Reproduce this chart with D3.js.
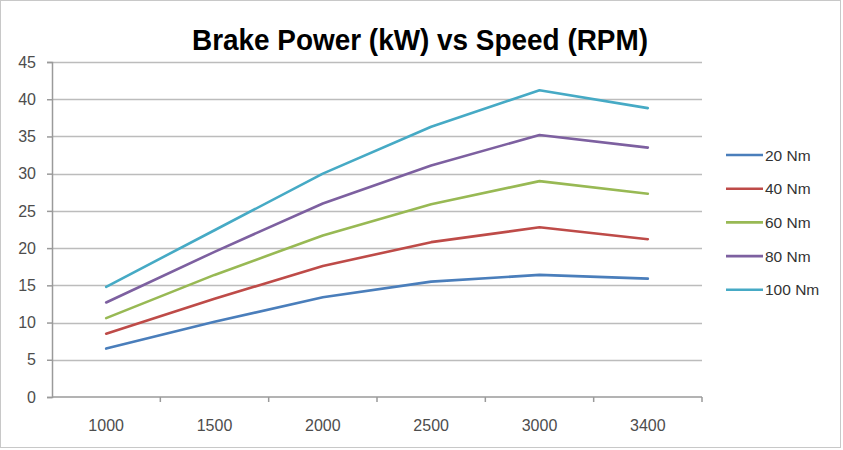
<!DOCTYPE html>
<html>
<head>
<meta charset="utf-8">
<script src="https://cdn.jsdelivr.net/npm/d3@7"></script>
<style>
  html, body { margin: 0; padding: 0; background: #fff; }
  svg { display: block; font-family: "Liberation Sans", Arial, sans-serif; }
</style>
</head>
<body>
<div id="chart"></div>
<script>
// Brake power vs speed — Excel-style line chart
const speeds = ['1000', '1500', '2000', '2500', '3000', '3400'];
const seriesNames = ['20 Nm', '40 Nm', '60 Nm', '80 Nm', '100 Nm'];
const power20 = [6.5, 10.1, 13.4, 15.5, 16.4, 15.9];
const power40 = [8.5, 13.2, 17.6, 20.8, 22.8, 21.2];
const power60 = [10.6, 16.4, 21.7, 25.9, 29.0, 27.3];
const power80 = [12.7, 19.5, 26.0, 31.1, 35.2, 33.5];
const power100 = [14.8, 22.4, 30.0, 36.3, 41.2, 38.8];
const yTicks = [0, 5, 10, 15, 20, 25, 30, 35, 40, 45];
const colors = ['#4a7ebb', '#be4b48', '#98b954', '#7d60a0', '#46aac5'];

const W = 843, H = 450;
const M = { top: 62, right: 141, bottom: 53, left: 52 };
const innerW = W - M.left - M.right, innerH = H - M.top - M.bottom;

const svg = d3.select('#chart').append('svg').attr('width', W).attr('height', H);

// outer chart border
svg.append('rect').attr('x', 0.5).attr('y', 0.5).attr('width', 840).attr('height', 447)
  .attr('fill', '#fff').attr('stroke', '#c8c8c8');

svg.append('text').attr('x', 420).attr('y', 50).attr('text-anchor', 'middle')
  .attr('font-size', 30).attr('font-weight', 'bold').attr('fill', '#000')
  .attr('textLength', 456).attr('lengthAdjust', 'spacingAndGlyphs')
  .text('Brake Power (kW) vs Speed (RPM)');

const g = svg.append('g').attr('transform', `translate(${M.left},${M.top})`);

const x = d3.scaleBand().domain(speeds).range([0, innerW]);
const y = d3.scaleLinear().domain([0, 45]).range([innerH, 0]);

// gridlines
g.append('g').selectAll('line').data(yTicks.filter(d => d > 0)).join('line')
  .attr('x1', 0).attr('x2', innerW)
  .attr('y1', d => Math.round(y(d)) + 0.5).attr('y2', d => Math.round(y(d)) + 0.5)
  .attr('stroke', '#bcbcbc').attr('stroke-width', 1.5);

// y axis
const yAx = g.append('g')
  .call(d3.axisLeft(y).tickValues(yTicks).tickSize(5).tickPadding(11));
yAx.select('.domain').attr('stroke', '#9a9a9a').attr('stroke-width', 1.5);
yAx.selectAll('.tick line').attr('stroke', '#9a9a9a').attr('stroke-width', 1.5);
yAx.selectAll('text').attr('font-size', 16).attr('fill', '#4d4d4d')
  .attr('font-family', '"Liberation Sans", Arial, sans-serif');

// x axis: ticks between categories
const xAx = g.append('g').attr('transform', `translate(0,${innerH})`);
xAx.append('line').attr('x1', 0).attr('x2', innerW).attr('y1', 0).attr('y2', 0)
  .attr('stroke', '#9a9a9a').attr('stroke-width', 1.5);
xAx.selectAll('line.tk').data(speeds).join('line').attr('class', 'tk')
  .attr('x1', d => x(d) + x.bandwidth()).attr('x2', d => x(d) + x.bandwidth())
  .attr('y1', 0).attr('y2', 5).attr('stroke', '#9a9a9a').attr('stroke-width', 1.5);
xAx.selectAll('text').data(speeds).join('text')
  .attr('x', d => x(d) + x.bandwidth() / 2).attr('y', 34)
  .attr('text-anchor', 'middle').attr('font-size', 16).attr('fill', '#4d4d4d')
  .text(d => d);

// series
const allSeries = [power20, power40, power60, power80, power100];
const line = d3.line()
  .x((d, i) => x(speeds[i]) + x.bandwidth() / 2)
  .y(d => y(d));

g.append('g').selectAll('path').data(allSeries).join('path')
  .attr('d', line).attr('fill', 'none')
  .attr('stroke', (d, i) => colors[i]).attr('stroke-width', 2.6)
  .attr('stroke-linejoin', 'round').attr('stroke-linecap', 'round');

// legend
const leg = svg.append('g').attr('transform', 'translate(726,155)');
const rows = leg.selectAll('g').data(seriesNames).join('g')
  .attr('transform', (d, i) => `translate(0,${i * 33.7})`);
rows.append('line').attr('x1', 0).attr('x2', 37).attr('y1', 0).attr('y2', 0)
  .attr('stroke', (d, i) => colors[i]).attr('stroke-width', 2.6);
rows.append('text').attr('x', 39).attr('y', 5.5).attr('font-size', 15.5)
  .attr('fill', '#333').text(d => d);
</script>
</body>
</html>
